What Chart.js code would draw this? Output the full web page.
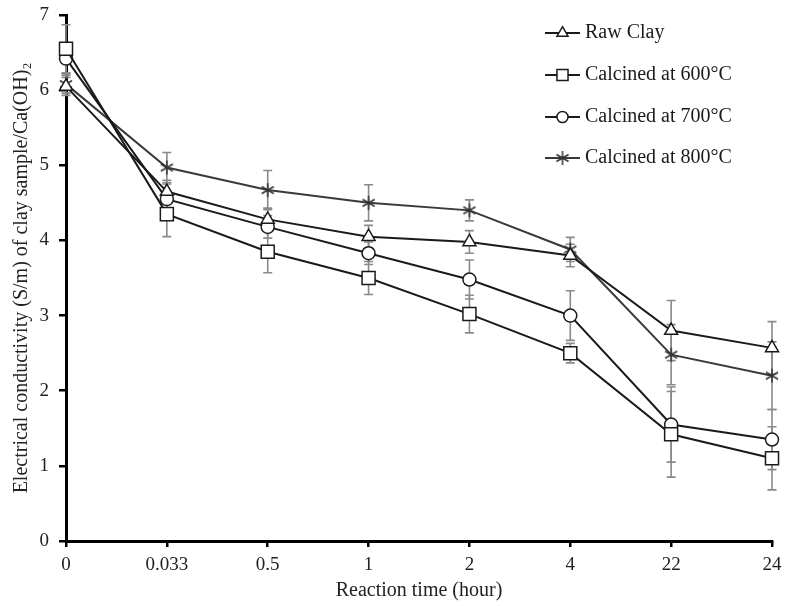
<!DOCTYPE html>
<html><head><meta charset="utf-8">
<script src="https://cdn.jsdelivr.net/npm/chart.js@4.4.0/dist/chart.umd.min.js"></script>
<style>html,body{margin:0;padding:0;background:#fff}#wrap{width:786px;height:606px}</style>
</head><body><div id="wrap"><canvas id="c" width="786" height="606"></canvas></div>
<script>
// ---- data ----
const categories = ['0', '0.033', '0.5', '1', '2', '4', '22', '24'];
const seriesNames = ['Raw Clay', 'Calcined at 600°C', 'Calcined at 700°C', 'Calcined at 800°C'];
const rawClay   = [6.05, 4.65, 4.28, 4.05, 3.98, 3.80, 2.80, 2.57];
const rawErr    = [0.12, 0.15, 0.15, 0.15, 0.15, 0.15, 0.40, 0.35];
const cal600    = [6.55, 4.35, 3.85, 3.50, 3.02, 2.50, 1.42, 1.10];
const cal600Err = [0.32, 0.30, 0.28, 0.22, 0.25, 0.13, 0.57, 0.42];
const cal700    = [6.42, 4.55, 4.18, 3.83, 3.48, 3.00, 1.55, 1.35];
const cal700Err = [0.20, 0.20, 0.15, 0.15, 0.26, 0.33, 0.50, 0.40];
const cal800    = [6.08, 4.97, 4.67, 4.50, 4.40, 3.88, 2.48, 2.20];
const cal800Err = [0.12, 0.20, 0.26, 0.24, 0.14, 0.16, 0.40, 0.45];
const yTicks = [0, 1, 2, 3, 4, 5, 6, 7];
const xTitle = 'Reaction time (hour)';
const yTitle = 'Electrical conductivity (S/m) of clay sample/Ca(OH)\u2082';

const FONT = '"Liberation Serif", "Times New Roman", serif';

function makeAsterisk() {
  const s = 18, c = document.createElement('canvas');
  c.width = s; c.height = s;
  const g = c.getContext('2d');
  g.strokeStyle = '#333'; g.lineWidth = 1.5;
  const m = s / 2, r = 7;
  g.beginPath();
  [90, 30, 150].forEach(a => {
    const rad = a * Math.PI / 180;
    g.moveTo(m - r * Math.cos(rad), m - r * Math.sin(rad));
    g.lineTo(m + r * Math.cos(rad), m + r * Math.sin(rad));
  });
  g.stroke();
  return c;
}
const asterisk = makeAsterisk();

const errorBarPlugin = {
  id: 'errorBars',
  beforeDatasetsDraw(chart) {
    const { ctx, scales: { x, y } } = chart;
    ctx.save();
    ctx.strokeStyle = '#8a8a8a';
    ctx.lineWidth = 1.6;
    chart.data.datasets.forEach(ds => {
      ds.errors.forEach((e, j) => {
        const px = x.getPixelForValue(j);
        const v = ds.data[j];
        const t = y.getPixelForValue(v + e), b = y.getPixelForValue(v - e);
        ctx.beginPath();
        ctx.moveTo(px, t); ctx.lineTo(px, b);
        ctx.moveTo(px - 4.5, t); ctx.lineTo(px + 4.5, t);
        ctx.moveTo(px - 4.5, b); ctx.lineTo(px + 4.5, b);
        ctx.stroke();
      });
    });
    ctx.restore();
  }
};

const legendPlugin = {
  id: 'insideLegend',
  afterDraw(chart) {
    const ctx = chart.ctx;
    const x0 = 545, x1 = 580, tx = 585, ys = [33, 75, 117, 158];
    ctx.save();
    chart.data.datasets.forEach((ds, i) => {
      const yy = ys[i];
      ctx.strokeStyle = ds.borderColor;
      ctx.lineWidth = 2;
      ctx.beginPath(); ctx.moveTo(x0, yy); ctx.lineTo(x1, yy); ctx.stroke();
      ctx.fillStyle = '#ffffff';
      ctx.strokeStyle = ds.pointBorderColor;
      ctx.lineWidth = ds.pointBorderWidth;
      Chart.helpers.drawPoint(ctx, { pointStyle: ds.pointStyle, rotation: 0, radius: ds.pointRadius * 0.85, borderWidth: ds.pointBorderWidth }, (x0 + x1) / 2, yy);
      ctx.fillStyle = '#1a1a1a';
      ctx.font = '20px ' + FONT;
      ctx.textBaseline = 'middle';
      ctx.textAlign = 'left';
      ctx.fillText(seriesNames[i], tx, yy);
    });
    ctx.restore();
  }
};

function ds(label, data, errors, style, radius, color) {
  return {
    label, data, errors,
    borderColor: color, borderWidth: 2,
    pointStyle: style, pointRadius: radius,
    pointBackgroundColor: '#ffffff', pointBorderColor: color, pointBorderWidth: 1.5,
    fill: false, tension: 0
  };
}

new Chart(document.getElementById('c'), {
  type: 'line',
  data: {
    labels: categories,
    datasets: [
      ds(seriesNames[0], rawClay, rawErr, 'triangle', 7.5, '#1a1a1a'),
      ds(seriesNames[1], cal600, cal600Err, 'rect', 9.2, '#1a1a1a'),
      ds(seriesNames[2], cal700, cal700Err, 'circle', 6.5, '#1a1a1a'),
      ds(seriesNames[3], cal800, cal800Err, asterisk, 7, '#3a3a3a')
    ]
  },
  options: {
    responsive: false,
    animation: false,
    layout: { padding: { top: 15, right: 14, left: 0, bottom: 0 } },
    plugins: { legend: { display: false }, tooltip: { enabled: false } },
    scales: {
      x: {
        type: 'category',
        offset: false,
        grid: { display: true, drawOnChartArea: false, drawTicks: true, tickLength: 6, color: '#000', lineWidth: 2.5 },
        border: { display: true, color: '#000', width: 3 },
        ticks: { color: '#222', font: { family: FONT, size: 19 }, padding: 7, maxRotation: 0, autoSkip: false },
        title: { display: true, text: xTitle, color: '#222', font: { family: FONT, size: 20 }, padding: { top: 0, bottom: 3 } },
        afterFit(s) { s.height = 65; s.paddingLeft = 0; s.paddingRight = 0; }
      },
      y: {
        min: 0, max: 7,
        afterBuildTicks(s) { s.ticks = yTicks.map(v => ({ value: v })); },
        grid: { display: true, drawOnChartArea: false, drawTicks: true, tickLength: 7, color: '#000', lineWidth: 2.5 },
        border: { display: true, color: '#000', width: 3 },
        ticks: { color: '#222', font: { family: FONT, size: 19 }, padding: 10 },
        title: { display: true, text: yTitle, color: '#222', font: { family: FONT, size: 20 }, padding: { top: 10, bottom: 0 } },
        afterFit(s) { s.width = 66; s.paddingTop = 0; s.paddingBottom = 0; }
      }
    }
  },
  plugins: [errorBarPlugin, legendPlugin]
});
</script>
</body></html>
